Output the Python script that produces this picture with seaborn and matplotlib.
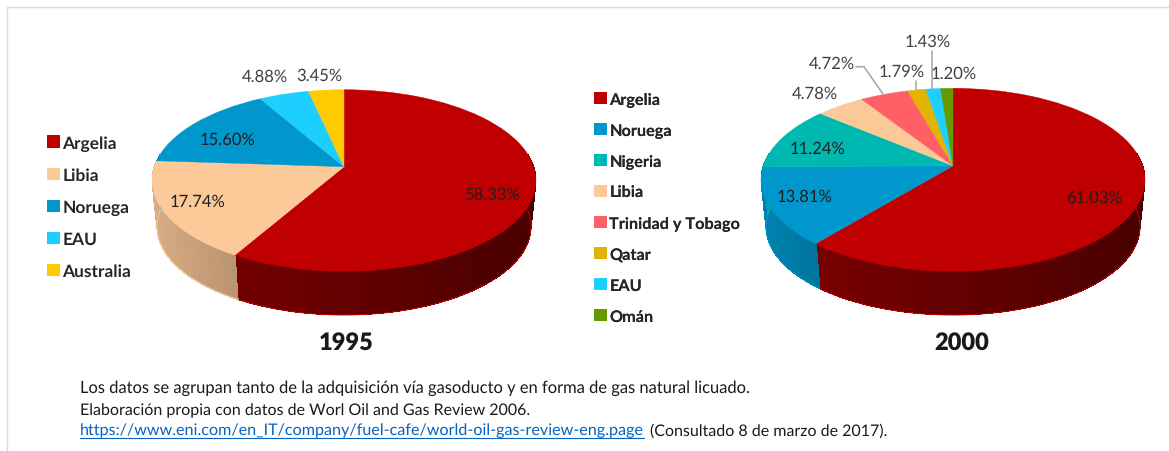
import numpy as np
import matplotlib
matplotlib.use('Agg')
import matplotlib.pyplot as plt
from matplotlib.patches import Patch
from matplotlib.transforms import Transform
from matplotlib.colors import to_rgb
import seaborn as sns

# data
paises_1995 = ['Argelia', 'Libia', 'Noruega', 'EAU', 'Australia']
valores_1995 = [58.33, 17.74, 15.60, 4.88, 3.45]
paises_2000 = ['Argelia', 'Noruega', 'Nigeria', 'Libia', 'Trinidad y Tobago', 'Qatar', 'EAU', 'Omán']
valores_2000 = [61.03, 13.81, 11.24, 4.78, 4.72, 1.79, 1.43, 1.20]

colores = {'Argelia': '#C00000', 'Libia': '#FCC999', 'Noruega': '#0098CC', 'EAU': '#1CCFFF',
           'Australia': '#FFCB00', 'Nigeria': '#00B8B2', 'Trinidad y Tobago': '#FF6065',
           'Qatar': '#E0B400', 'Omán': '#669900'}

notas = ['Los datos se agrupan tanto de la adquisición vía gasoducto y en forma de gas natural licuado.',
         'Elaboración propia con datos de Worl Oil and Gas Review 2006.']
enlace = 'https://www.eni.com/en_IT/company/fuel-cafe/world-oil-gas-review-eng.page'
consulta = '(Consultado 8 de marzo de 2017).'


class Tilt(Transform):
    # unit circle seen in perspective, apex sits above the centre of the ellipse
    input_dims = 2
    output_dims = 2

    def __init__(self, cx, cy, a, b, p):
        super().__init__()
        self.cx, self.cy, self.a, self.b, self.p = cx, cy, a, b, p

    def transform_non_affine(self, xy):
        xy = np.asarray(xy)
        d = 1 + self.p * xy[:, 1]
        s = self.a * np.sqrt(1 - self.p ** 2)
        return np.column_stack([self.cx + s * xy[:, 0] / d,
                                self.cy - self.b * (xy[:, 1] + self.p) / d])


def shade(color, c, dark):
    f = 0.52 - 0.16 * c if dark else 0.60 - 0.27 * c
    return tuple(v * f for v in to_rgb(color))


def draw_pie(ax, paises, valores, top, bottom, label_pos):
    colors = [colores[p] for p in paises]
    wedges, _, autotexts = ax.pie(valores, colors=colors, startangle=90, counterclock=False,
                                  autopct='%.2f%%', frame=True,
                                  wedgeprops={'linewidth': 0.3})
    for w, col in zip(wedges, colors):
        w.set_transform(top + ax.transData)
        w.set_edgecolor(col)
        w.set_zorder(3)
        w.set_clip_on(False)
    for t, pos in zip(autotexts, label_pos):
        t.set_position(pos)
        t.set_ha('center')
        t.set_va('center')
        t.set_fontsize(12)
        t.set_color('#404040' if pos[1] < 110 else '#1F1F1F')
        t.set_zorder(5)

    # side wall, one thin strip per degree
    start = 90.0
    for pais, val, col in zip(paises, valores, colors):
        end = start - val * 3.6
        angs = np.radians(np.arange(end, start + 1.0, 1.0))
        angs = angs[np.sin(angs) < 0.15]
        if len(angs) > 1:
            unit = np.column_stack([np.cos(angs), np.sin(angs)])
            up = top.transform(unit)
            low = bottom.transform(unit)
            for i in range(len(angs) - 1):
                c = shade(col, np.cos(angs[i]), pais == 'Argelia')
                ax.fill([up[i, 0], up[i + 1, 0], low[i + 1, 0], low[i, 0]],
                        [up[i, 1], up[i + 1, 1], low[i + 1, 1], low[i, 1]],
                        color=c, lw=0, antialiased=False, zorder=1, clip_on=False)
            ax.plot(low[:, 0], low[:, 1], color=col, lw=0.7, zorder=2)
        start = end


def draw_legend(ax, paises, x, y, spacing, fs):
    handles = [Patch(facecolor=colores[p], edgecolor='none', label=p) for p in paises]
    leg = ax.legend(handles=handles, loc='upper left', bbox_to_anchor=(x, y),
                    bbox_transform=ax.transData, frameon=False, ncol=1,
                    prop={'weight': 'bold', 'size': fs}, labelcolor='#262626',
                    handlelength=9 / fs, handleheight=9 / fs, handletextpad=2 / fs,
                    labelspacing=spacing, borderaxespad=0, borderpad=0)
    ax.add_artist(leg)


sns.set_theme(style='white')
plt.rcParams['font.family'] = ['Lato', 'DejaVu Sans']
plt.rcParams['text.hinting'] = 'no_hinting'

fig = plt.figure(figsize=(11.69, 4.52), dpi=100)
ax = fig.add_axes([0, 0, 1, 1])

pos_1995 = [(492, 195), (198, 202), (228, 140), (265, 77), (319, 76)]
pos_2000 = [(1094, 198), (805, 197), (818, 149), (815, 94), (832, 64),
            (902, 72), (928, 42), (954, 74)]

draw_pie(ax, paises_1995, valores_1995,
         Tilt(344, 181.5, 192, 90.8, 0.152), Tilt(344, 227.5, 187, 88.5, 0.152), pos_1995)
draw_pie(ax, paises_2000, valores_2000,
         Tilt(953, 180.8, 192, 91.5, 0.153), Tilt(953, 227.5, 187, 88.5, 0.153), pos_2000)

ax.set_aspect('auto')
ax.set_xlim(0, 1169)
ax.set_ylim(452, 0)
ax.axis('off')

# leader lines of the small slices
for xs, ys in [([856, 864, 883], [67.7, 67.7, 95]), ([916, 916], [81.7, 91]), ([932, 932], [52, 90])]:
    ax.plot(xs, ys, color='#A6A6A6', lw=1.1, zorder=4)

draw_legend(ax, paises_1995, 47, 136, 0.95, 12.5)
draw_legend(ax, paises_2000, 594, 93, 1.0, 11.7)

ax.text(346, 343, '1995', fontsize=17, fontweight='heavy', color='#1A1A1A', ha='center', va='center')
ax.text(962, 343, '2000', fontsize=17, fontweight='heavy', color='#1A1A1A', ha='center', va='center')

# footer
for txt, y, fs in zip(notas, [388, 411], [11.9, 11.5]):
    ax.text(80, y, txt, fontsize=fs, color='#1A1A1A', va='center')
link = ax.text(80, 431, enlace, fontsize=11.62, color='#0563C1', va='center')
ax.text(650, 431, consulta, fontsize=11.55, color='#1A1A1A', va='center')
fig.canvas.draw()
box = link.get_window_extent().transformed(ax.transData.inverted())
ax.plot([box.x0, box.x1], [439, 439], color='#0563C1', lw=0.8)

# frame of the pasted picture
ax.plot([7, 7, 1169], [452, 8, 8], color='#D9D9D9', lw=1, clip_on=False)

fig.savefig('out.png', dpi=100, facecolor='white')
